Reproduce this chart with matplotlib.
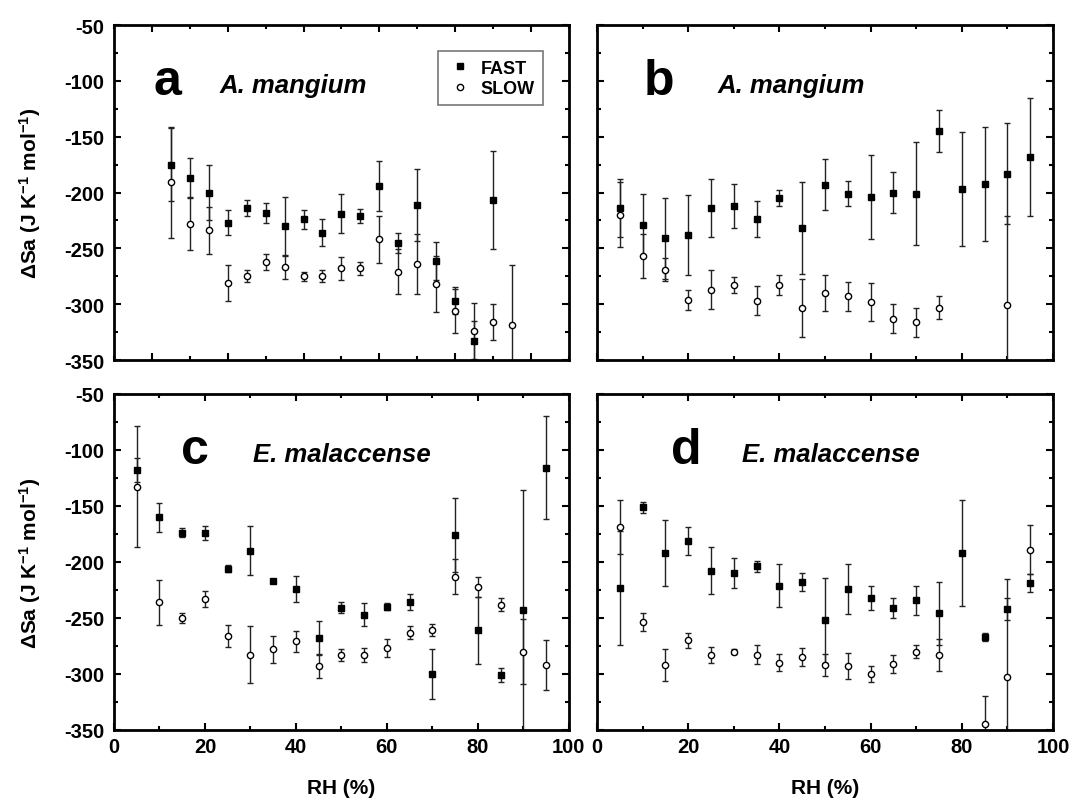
import numpy as np
import matplotlib
matplotlib.use("Agg")
import matplotlib.pyplot as plt
from matplotlib.ticker import MultipleLocator
from matplotlib.lines import Line2D

# RH 值 (%)
rh_all = [5, 10, 15, 20, 25, 30, 35, 40, 45, 50, 55, 60, 65, 70, 75, 80, 85, 90, 95]

# a: A. mangium
rh_a_fast = rh_all[:18]
fast_a = [-175, -187, -200, -227, -214, -218, -230, -224, -236, -219, -221, -194, -245, -211, -261, -297, -333, -207]
fast_a_err = [33, 18, 25, 11, 7, 9, 26, 8.5, 12, 17.6, 6.5, 22.5, 9, 32, 17, 12, 18, 44]
rh_a_slow = rh_all
slow_a = [-191, -228, -234, -281, -275, -262, -267, -275, -275, -268, -268, -242, -271, -264, -282, -306, -324, -316, -319]
slow_a_err = [50, 23.6, 21, 16, 5.5, 7, 10, 4, 5.5, 10, 6, 21, 20, 27, 25, 20, 25, 16, 54]

# b: A. mangium
rh_b_fast = rh_all
fast_b = [-214, -229, -241, -238, -214, -212, -224, -205, -232, -193, -201, -204, -200, -201, -145, -197, -192, -183, -168]
fast_b_err = [26, 28, 36, 36, 26, 20, 16, 7.5, 41, 23, 11.5, 38, 18.5, 46, 19, 51, 51, 45, 53]
rh_b_slow = [5, 10, 15, 20, 25, 30, 35, 40, 45, 50, 55, 60, 65, 70, 75, 90]
slow_b = [-220, -257, -269, -296, -287, -283, -297, -283, -303, -290, -293, -298, -313, -316, -303, -301]
slow_b_err = [29, 19.5, 10, 9, 17.6, 7, 13, 9, 26, 16, 13, 17, 13, 13, 10, 80]

# c: E. malaccense
rh_c_fast = rh_all
fast_c = [-118, -160, -174, -174, -206, -190, -217, -224, -268, -241, -247, -240, -236, -300, -176, -261, -301, -243, -116]
fast_c_err = [11, 13, 4, 6, 3, 22, 2, 11.5, 15.5, 5, 10, 3, 7, 22.5, 33, 30, 6, 107, 46]
rh_c_slow = rh_all
slow_c = [-133, -236, -250, -233, -266, -283, -278, -271, -293, -283, -283, -277, -263, -261, -213, -222, -238, -280, -292]
slow_c_err = [54, 20, 4.5, 7.5, 10, 25.5, 12, 9, 11, 5, 6, 8, 6, 5.5, 16, 9, 6, 29, 22]

# d: E. malaccense
rh_d_fast = rh_all
fast_d = [-223, -151, -192, -181, -208, -210, -204, -221, -218, -252, -224, -232, -241, -234, -246, -192, -267, -242, -219]
fast_d_err = [51, 5, 29.5, 12.5, 21, 13.5, 5, 19, 8, 38, 22.5, 11, 9, 13, 28, 47, 4, 10, 8]
rh_d_slow = [5, 10, 15, 20, 25, 30, 35, 40, 45, 50, 55, 60, 65, 70, 75, 85, 90, 95]
slow_d = [-169, -254, -292, -270, -283, -280, -283, -290, -285, -292, -293, -300, -291, -280, -283, -345, -303, -189]
slow_d_err = [24, 8, 14, 7, 7, 2, 8.5, 7.5, 8, 10, 11.5, 7.5, 8, 5.5, 14.5, 25, 88, 22]


def style_axes(ax, xlim, show_xlabels, show_ylabels):
    """設定座標軸範圍、刻度與外框。"""
    ax.set_xlim(*xlim)
    ax.set_ylim(-350, -50)
    ax.xaxis.set_major_locator(MultipleLocator(20))
    ax.xaxis.set_minor_locator(MultipleLocator(10))
    ax.yaxis.set_major_locator(MultipleLocator(50))
    ax.yaxis.set_minor_locator(MultipleLocator(25))
    ax.tick_params(which='both', direction='in', top=True, right=True, width=1.5)
    ax.tick_params(which='major', length=5, labelsize=14.5)
    ax.tick_params(which='minor', length=3)
    ax.tick_params(axis='x', labelbottom=show_xlabels, pad=5)
    ax.tick_params(axis='y', labelleft=show_ylabels, pad=7)
    for s in ax.spines.values():
        s.set_linewidth(2)


def draw_panel(ax, rh_f, fast, fast_err, rh_s, slow, slow_err):
    """畫 FAST / SLOW 兩組誤差棒。"""
    ax.errorbar(rh_f, fast, yerr=fast_err, fmt='s', color='black', ms=4,
                ecolor='#222222', elinewidth=1, capsize=2.5, capthick=1)
    ax.errorbar(rh_s, slow, yerr=slow_err, fmt='o', mfc='white', mec='black', mew=1, ms=4.5,
                ecolor='#222222', elinewidth=1, capsize=2.5, capthick=1)


plt.rcParams['font.family'] = ['Liberation Sans', 'DejaVu Sans']
plt.rcParams['font.weight'] = 'bold'
plt.rcParams['axes.unicode_minus'] = False
plt.rcParams['mathtext.fontset'] = 'custom'
plt.rcParams['mathtext.bf'] = 'Liberation Sans:bold'
plt.rcParams['mathtext.rm'] = 'Liberation Sans:bold'
plt.rcParams['mathtext.default'] = 'bf'

fig = plt.figure(figsize=(10.72, 8.03), dpi=100)
ax_a = fig.add_axes([0.1063, 0.5504, 0.4244, 0.4172])
ax_b = fig.add_axes([0.5569, 0.5504, 0.4254, 0.4172])
ax_c = fig.add_axes([0.1063, 0.0897, 0.4244, 0.4184])
ax_d = fig.add_axes([0.5569, 0.0897, 0.4254, 0.4184])

draw_panel(ax_a, rh_a_fast, fast_a, fast_a_err, rh_a_slow, slow_a, slow_a_err)
draw_panel(ax_b, rh_b_fast, fast_b, fast_b_err, rh_b_slow, slow_b, slow_b_err)
draw_panel(ax_c, rh_c_fast, fast_c, fast_c_err, rh_c_slow, slow_c, slow_c_err)
draw_panel(ax_d, rh_d_fast, fast_d, fast_d_err, rh_d_slow, slow_d, slow_d_err)

style_axes(ax_a, (-10, 110), False, True)
style_axes(ax_b, (0, 100), False, False)
style_axes(ax_c, (0, 100), True, True)
style_axes(ax_d, (0, 100), True, False)

# 面板標記與物種名稱
panel_text = [
    (ax_a, 'a', 0.088, 'A. mangium', 0.233),
    (ax_b, 'b', 0.103, 'A. mangium', 0.265),
    (ax_c, 'c', 0.148, 'E. malaccense', 0.305),
    (ax_d, 'd', 0.162, 'E. malaccense', 0.318),
]
for ax, letter, lx, species, sx in panel_text:
    ax.text(lx, 0.795, letter, transform=ax.transAxes, fontsize=36, fontweight='bold', va='baseline')
    ax.text(sx, 0.80, species, transform=ax.transAxes, fontsize=18.5, fontweight='bold',
            style='italic', va='baseline')

# 圖例（只顯示標記，不顯示誤差棒）
handles = [
    Line2D([], [], ls='none', marker='s', color='black', ms=4),
    Line2D([], [], ls='none', marker='o', mfc='white', mec='black', mew=1, ms=4.5),
]
leg = ax_a.legend(handles, ['FAST', 'SLOW'], loc='upper right', bbox_to_anchor=(0.943, 0.921),
                  fontsize=13, frameon=True, fancybox=False, handletextpad=0.4, borderpad=0.45,
                  labelspacing=0.2, handlelength=1.5, borderaxespad=0)
leg.get_frame().set_edgecolor('#555555')
leg.get_frame().set_linewidth(1.2)

# 軸標籤
for ax in (ax_a, ax_c):
    ax.set_ylabel(r'$\Delta$Sa (J K$^{-1}$ mol$^{-1}$)', fontsize=15, fontweight='bold', labelpad=15)
for ax in (ax_c, ax_d):
    ax.set_xlabel('RH (%)', fontsize=15, fontweight='bold', labelpad=16)

fig.savefig('out.png', dpi=100)
